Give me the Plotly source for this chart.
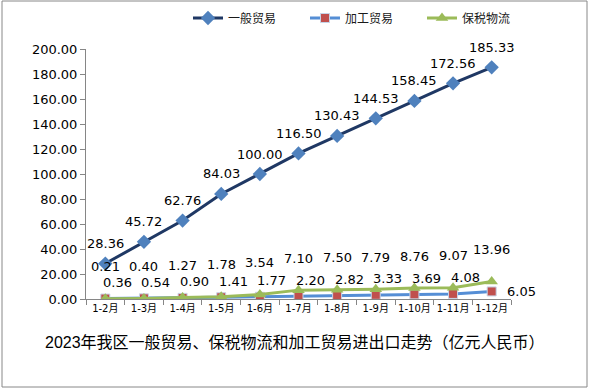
import plotly.graph_objects as go

categories = ["1-2月", "1-3月", "1-4月", "1-5月", "1-6月", "1-7月", "1-8月", "1-9月", "1-10月", "1-11月", "1-12月"]
general_trade = [28.36, 45.72, 62.76, 84.03, 100.00, 116.50, 130.43, 144.53, 158.45, 172.56, 185.33]
processing_trade = [0.36, 0.54, 0.90, 1.41, 1.77, 2.20, 2.82, 3.33, 3.69, 4.08, 6.05]
bonded_logistics = [0.21, 0.40, 1.27, 1.78, 3.54, 7.10, 7.50, 7.79, 8.76, 9.07, 13.96]
y_ticks = [0, 20, 40, 60, 80, 100, 120, 140, 160, 180, 200]
title_text = "2023年我区一般贸易、保税物流和加工贸易进出口走势（亿元人民币）"

NUM_FONT = "DejaVu Sans, Noto Sans CJK SC"
CJK_FONT = "Noto Sans CJK SC, DejaVu Sans"

fig = go.Figure()
fig.add_trace(go.Scatter(
    x=categories, y=general_trade, name="一般贸易", mode="lines+markers",
    line=dict(color="#1F3864", width=3),
    marker=dict(symbol="diamond", size=11, color="#4F81BD"),
))
fig.add_trace(go.Scatter(
    x=categories, y=processing_trade, name="加工贸易", mode="lines+markers",
    line=dict(color="#558ED5", width=3),
    marker=dict(symbol="square", size=9, color="#C0504D", line=dict(color="#C6D4E8", width=1)),
))
fig.add_trace(go.Scatter(
    x=categories, y=bonded_logistics, name="保税物流", mode="lines+markers",
    line=dict(color="#9BBB59", width=3),
    marker=dict(symbol="triangle-up", size=11, color="#9BBB59"),
))

annotations = []
lbl_font = dict(family=NUM_FONT, size=13, color="#000000")
for c, v in zip(categories, general_trade):
    annotations.append(dict(x=c, y=v, text=f"{v:.2f}", showarrow=False, yshift=20, font=lbl_font))
for c, v in zip(categories, bonded_logistics):
    annotations.append(dict(x=c, y=v, text=f"{v:.2f}", showarrow=False, yshift=32, font=lbl_font))
n = len(categories)
for i, (c, v) in enumerate(zip(categories, processing_trade)):
    last = i == n - 1
    annotations.append(dict(x=c, y=v, text=f"{v:.2f}", showarrow=False,
                            xshift=30 if last else 12, yshift=0 if last else 16, font=lbl_font))

annotations.append(dict(x=(295 - 86) / 425, y=(299 - 342) / 250, xref="paper", yref="paper",
                        xanchor="center", yanchor="middle", text=title_text, showarrow=False,
                        font=dict(family="Liberation Sans, Noto Sans CJK SC", size=16, color="#000000")))

fig.update_layout(
    width=592, height=390,
    margin=dict(l=86, r=81, t=49, b=91),
    paper_bgcolor="white", plot_bgcolor="white",
    showlegend=True,
    legend=dict(orientation="h", xref="container", yref="container",
                x=188 / 592, y=1 - 18 / 390, xanchor="left", yanchor="middle",
                font=dict(family=CJK_FONT, size=12, color="#1a1a1a"),
                entrywidth=72, entrywidthmode="pixels", bgcolor="rgba(0,0,0,0)"),
    annotations=annotations,
    shapes=[dict(type="rect", xref="paper", yref="paper",
                 x0=(2 - 86) / 425, x1=(587 - 86) / 425,
                 y0=(299 - 387) / 250, y1=(299 - 1) / 250,
                 line=dict(color="#888888", width=1))],
    xaxis=dict(type="category", showgrid=False, showline=True, linecolor="#868686", linewidth=1,
               ticks="outside", tickson="boundaries", ticklen=5, tickcolor="#868686",
               tickangle=0, automargin=False,
               tickfont=dict(family=NUM_FONT, size=10, color="#000000"),
               range=[-0.5, n - 0.5], zeroline=False),
    yaxis=dict(range=[0, 200], tickvals=y_ticks, ticktext=[f"{t:.2f}" for t in y_ticks],
               showgrid=False, showline=True, linecolor="#868686", linewidth=1, automargin=False,
               ticks="outside", ticklen=5, tickcolor="#868686", zeroline=False,
               tickfont=dict(family=NUM_FONT, size=13, color="#000000")),
)

fig.write_html("out.html", config={"displayModeBar": False},
               post_script="document.body.style.margin='0px';")
